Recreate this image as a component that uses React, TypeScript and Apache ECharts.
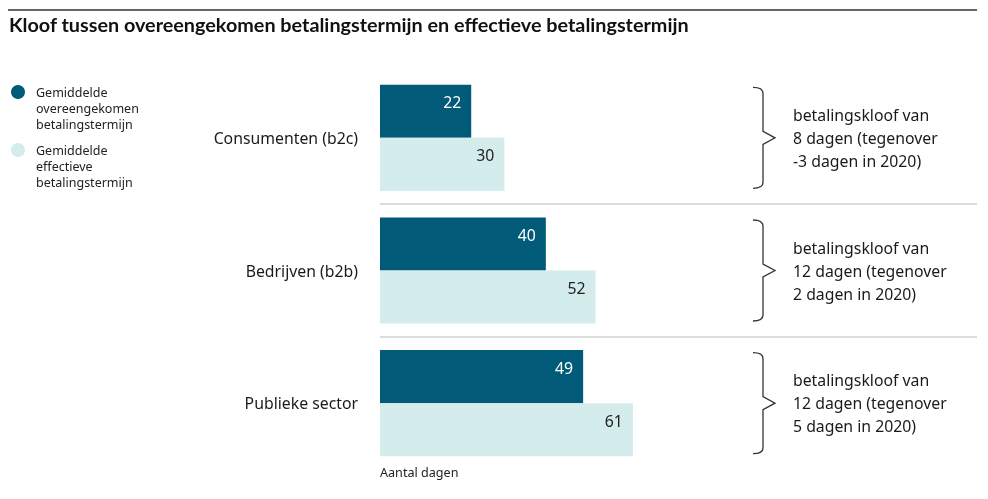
import React, { useEffect, useRef } from "react";
import * as echarts from "echarts";

const categories = ["Consumenten (b2c)", "Bedrijven (b2b)", "Publieke sector"];
const agreedName = "Gemiddelde\novereengekomen\nbetalingstermijn";
const effectiveName = "Gemiddelde\neffectieve\nbetalingstermijn";
const agreedDays = [22, 40, 49];
const effectiveDays = [30, 52, 61];
const gapNotes = [
  "betalingskloof van\n8 dagen (tegenover\n-3 dagen in 2020)",
  "betalingskloof van\n12 dagen (tegenover\n2 dagen in 2020)",
  "betalingskloof van\n12 dagen (tegenover\n5 dagen in 2020)",
];
const titleText = "Kloof tussen overeengekomen betalingstermijn en effectieve betalingstermijn";
const axisName = "Aantal dagen";

const DARK = "#005a78";
const LIGHT = "#d4ecec";
const FONT = "'Noto Sans', sans-serif";
const FS = 15.8;

let braceRegistered = false;
function registerBrace() {
  if (braceRegistered) return;
  echarts.graphic.registerShape(
    "brace",
    echarts.graphic.extendPath(
      "M0,0 Q10,0 10,6 L10,44 L22,50.5 L10,57 L10,95 Q10,101 0,101",
      {}
    ) as any
  );
  braceRegistered = true;
}

export default function App() {
  const ref = useRef<HTMLDivElement>(null);
  useEffect(() => {
    if (!ref.current) return;
    registerBrace();
    const chart = echarts.init(ref.current, null, { renderer: "svg" });
    chart.setOption({
      animation: false,
      title: {
        text: titleText,
        left: 9,
        top: 12,
        padding: 0,
        textStyle: {
          fontFamily: "Lato, sans-serif",
          fontWeight: "bold",
          fontSize: 19.8,
          color: "#111",
          lineHeight: 24,
        },
      },
      legend: {
        orient: "vertical",
        left: 11,
        top: 52,
        padding: 0,
        itemWidth: 14,
        itemHeight: 14,
        itemGap: -22,
        icon: "circle",
        data: [agreedName, effectiveName],
        formatter: (name: string) => "\n\n" + name,
        textStyle: {
          fontFamily: FONT,
          fontSize: 12.5,
          lineHeight: 16,
          color: "#222",
          padding: [0, 0, 0, 6],
        },
      },
      grid: { left: 380, right: 11, top: 71.5, bottom: 29.5 },
      xAxis: {
        type: "value",
        min: 0,
        max: 144,
        show: false,
      },
      yAxis: {
        type: "category",
        data: categories,
        inverse: true,
        axisLine: { show: false },
        axisTick: { show: false },
        axisLabel: {
          margin: 22,
          fontFamily: FONT,
          fontSize: FS,
          color: "#1a1a1a",
        },
        splitLine: {
          show: true,
          lineStyle: {
            color: ["rgba(0,0,0,0)", "#dcdcdc", "#dcdcdc", "rgba(0,0,0,0)"],
            width: 2,
          },
        },
      },
      series: [
        {
          name: agreedName,
          type: "bar",
          data: agreedDays,
          barGap: "0%",
          barCategoryGap: "20%",
          itemStyle: { color: DARK },
          label: {
            show: true,
            position: "insideRight",
            distance: 10,
            offset: [0, -9],
            fontFamily: FONT,
            fontSize: FS,
            color: "#ffffff",
          },
        },
        {
          name: effectiveName,
          type: "bar",
          data: effectiveDays,
          barGap: "0%",
          barCategoryGap: "20%",
          itemStyle: { color: LIGHT },
          label: {
            show: true,
            position: "insideRight",
            distance: 10,
            offset: [0, -9],
            fontFamily: FONT,
            fontSize: FS,
            color: "#222",
          },
        },
      ],
    });

    const graphics: any[] = [
      {
        type: "line",
        shape: { x1: 8, y1: 10, x2: 977, y2: 10 },
        style: { stroke: "#333", lineWidth: 1.5 },
      },
      {
        type: "text",
        x: 380,
        y: 472,
        style: {
          text: axisName,
          fontFamily: FONT,
          fontSize: 12.6,
          fill: "#222",
          verticalAlign: "middle",
        },
      },
    ];
    categories.forEach((c, i) => {
      const cy = chart.convertToPixel({ yAxisIndex: 0 }, c) as number;
      graphics.push({
        type: "brace",
        x: 753,
        y: cy - 50.5,
        style: { stroke: "#333", fill: "none", lineWidth: 1.3 },
      });
      graphics.push({
        type: "text",
        x: 793,
        y: cy,
        style: {
          text: gapNotes[i],
          fontFamily: FONT,
          fontSize: FS,
          lineHeight: 23,
          fill: "#1a1a1a",
          verticalAlign: "middle",
        },
      });
    });
    chart.setOption({ graphic: graphics });

    return () => chart.dispose();
  }, []);
  return (
    <div
      ref={ref}
      style={{ position: "fixed", left: 0, top: 0, width: 988, height: 499 }}
    />
  );
}
